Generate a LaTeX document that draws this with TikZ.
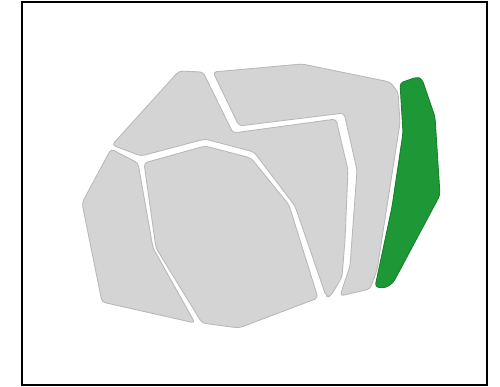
\documentclass[tikz,border=0pt]{standalone}
\usepackage{tikz}
\definecolor{shardgray}{RGB}{212,212,212}
\definecolor{shardedge}{RGB}{185,185,185}
\definecolor{shardgreen}{RGB}{30,152,54}
\definecolor{greenedge}{RGB}{22,128,44}

\begin{document}
\begin{tikzpicture}[
  x=0.02cm, y=-0.02cm,
  shard/.style={fill=shardgray, draw=shardedge, line width=0.5pt,
                rounded corners=2pt, line join=round},
  greenshard/.style={shard, fill=shardgreen, draw=greenedge},
  frame/.style={draw=black, line width=1.1pt},
]
\useasboundingbox (0,0) rectangle (500,386);

% ---- outer frame ----
\draw[frame] (22,2) rectangle (487,385);

% ---- left piece ----
\draw[shard] (111,149) -- (138,163) -- (153,248) -- (195,323)
  -- (102,302) -- (82,203) -- cycle;

% ---- big middle piece ----
\draw[shard] (144,163) -- (205,146) -- (251,158) -- (289,205)
  -- (318,298) -- (239,328) -- (202,323) -- (156,248) -- cycle;

% ---- upper left piece, running down to the thin wedge ----
\draw[shard] (112,145) -- (179,71) -- (203,72) -- (233,133)
  -- (336,119) -- (348,170) -- (345,240) -- (342,277) -- (330,297)
  -- (326,296) -- (295,206) -- (254,152) -- (205,139) -- (141,156) -- cycle;

% ---- top right piece, bent down the right side ----
\draw[shard] (213,72) -- (302,64) -- (390,82) -- (398,92) -- (400,123)
  -- (377,270) -- (370,289) -- (340,296) -- (350,266) -- (357,170)
  -- (344,113) -- (239,126) -- cycle;

% ---- green piece ----
\draw[greenshard] (400,83) -- (417,77) -- (422,79) -- (435,117)
  -- (440,195) -- (393,283) -- (385,288) -- (375,287) -- (392,207)
  -- (403,133) -- cycle;

\end{tikzpicture}
\end{document}
